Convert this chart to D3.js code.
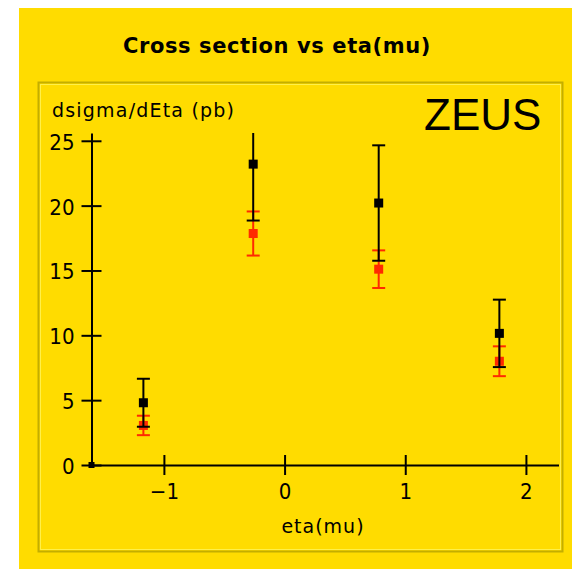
<!DOCTYPE html>
<html>
<head>
<meta charset="utf-8">
<script src="https://cdn.jsdelivr.net/npm/d3@7"></script>
<style>
  body { margin: 0; background: #fff; }
  text { font-family: "DejaVu Sans Condensed", "DejaVu Sans", sans-serif; fill: #000; }
</style>
</head>
<body>
<div id="chart"></div>
<script>
// data
const eta = [-1.17, -0.26, 0.78, 1.78];
const zeusVal = [4.8, 23.2, 20.2, 10.15];
const zeusErr = [1.85, 4.35, 4.45, 2.6];
const mcVal = [3.05, 17.85, 15.1, 8.0];
const mcErr = [0.75, 1.7, 1.45, 1.15];
const xTicks = [-1, 0, 1, 2];
const yTicks = [0, 5, 10, 15, 20, 25];

const W = 572, H = 569;
const yellow = "#ffdc00";

const svg = d3.select("#chart").append("svg")
  .attr("width", W).attr("height", H);

// background panel
svg.append("rect").attr("x", 19).attr("y", 8).attr("width", W - 19).attr("height", H - 8)
  .attr("fill", yellow);

// inner bevelled frame
svg.append("rect").attr("x", 38.5).attr("y", 82.5).attr("width", 524).attr("height", 469)
  .attr("fill", "none").attr("stroke", "#c4ae00").attr("stroke-width", 2);
svg.append("rect").attr("x", 40.5).attr("y", 84.5).attr("width", 520).attr("height", 465)
  .attr("fill", "none").attr("stroke", "#fff04a").attr("stroke-width", 1);

svg.append("text").attr("x", 277).attr("y", 53)
  .attr("text-anchor", "middle")
  .style("font-family", '"DejaVu Sans", sans-serif')
  .style("font-size", "21px").style("font-weight", "bold").style("letter-spacing", "0.6px")
  .text("Cross section vs eta(mu)");

const x = d3.scaleLinear().domain([-1.6, 2.27]).range([91.5, 558.5]);
const y = d3.scaleLinear().domain([0, 25.6]).range([465, 133]);

// x axis
const gx = svg.append("g").attr("transform", `translate(0,${y(0)})`)
  .call(d3.axisBottom(x).tickValues(xTicks).tickSize(10).tickSizeOuter(0)
    .tickFormat(d => d < 0 ? "\u2212" + Math.abs(d) : d));
gx.selectAll(".tick line").attr("y1", -10).attr("y2", 10);
gx.selectAll(".tick text").attr("y", 34).attr("dy", 0)
  .style("font-size", "22px").style("font-family", '"DejaVu Sans Condensed", sans-serif');

// y axis
const gy = svg.append("g").attr("transform", `translate(${x(-1.6)},0)`)
  .call(d3.axisLeft(y).tickValues(yTicks).tickSize(10).tickSizeOuter(0));
gy.selectAll(".tick line").attr("x1", -10).attr("x2", 10);
gy.selectAll(".tick text").attr("x", -17).attr("dy", "0.38em")
  .style("font-size", "22px").style("font-family", '"DejaVu Sans Condensed", sans-serif');

svg.selectAll(".domain, .tick line").attr("stroke", "#000").attr("stroke-width", 2);
svg.selectAll(".tick text").attr("fill", "#000");

// origin marker
svg.append("rect").attr("x", x(-1.6) - 3).attr("y", y(0) - 3).attr("width", 6).attr("height", 6)
  .attr("fill", "#000");

svg.append("text").attr("x", 52).attr("y", 117)
  .style("font-family", '"DejaVu Sans", sans-serif')
  .style("font-size", "19px").style("letter-spacing", "1.2px")
  .text("dsigma/dEta (pb)");

svg.append("text").attr("x", 424).attr("y", 130)
  .style("font-size", "44px").style("font-family", '"Liberation Sans", Arial, sans-serif')
  .text("ZEUS");

svg.append("text").attr("x", 323).attr("y", 533)
  .attr("text-anchor", "middle")
  .style("font-family", '"DejaVu Sans", sans-serif')
  .style("font-size", "19px").style("letter-spacing", "1px")
  .text("eta(mu)");

// error bars + markers, clipped to the plot region
svg.append("clipPath").attr("id", "plotclip")
  .append("rect").attr("x", 80).attr("y", y(25.6)).attr("width", 490).attr("height", 360);

const plot = svg.append("g").attr("clip-path", "url(#plotclip)");

function series(vals, errs, color, size) {
  const data = eta.map((e, i) => ({ e, v: vals[i], err: errs[i] }));
  const g = plot.append("g");
  const cap = 6.5;
  g.selectAll(".bar").data(data).join("line")
    .attr("x1", d => x(d.e)).attr("x2", d => x(d.e))
    .attr("y1", d => y(d.v - d.err)).attr("y2", d => y(d.v + d.err))
    .attr("stroke", color).attr("stroke-width", 2);
  g.selectAll(".capHi").data(data).join("line")
    .attr("x1", d => x(d.e) - cap).attr("x2", d => x(d.e) + cap)
    .attr("y1", d => y(d.v + d.err)).attr("y2", d => y(d.v + d.err))
    .attr("stroke", color).attr("stroke-width", 2);
  g.selectAll(".capLo").data(data).join("line")
    .attr("x1", d => x(d.e) - cap).attr("x2", d => x(d.e) + cap)
    .attr("y1", d => y(d.v - d.err)).attr("y2", d => y(d.v - d.err))
    .attr("stroke", color).attr("stroke-width", 2);
  g.selectAll(".mk").data(data).join("rect")
    .attr("x", d => x(d.e) - size / 2).attr("y", d => y(d.v) - size / 2)
    .attr("width", size).attr("height", size)
    .attr("fill", color);
}

series(mcVal, mcErr, "#ff2a00", 9);
series(zeusVal, zeusErr, "#000", 9);
</script>
</body>
</html>
